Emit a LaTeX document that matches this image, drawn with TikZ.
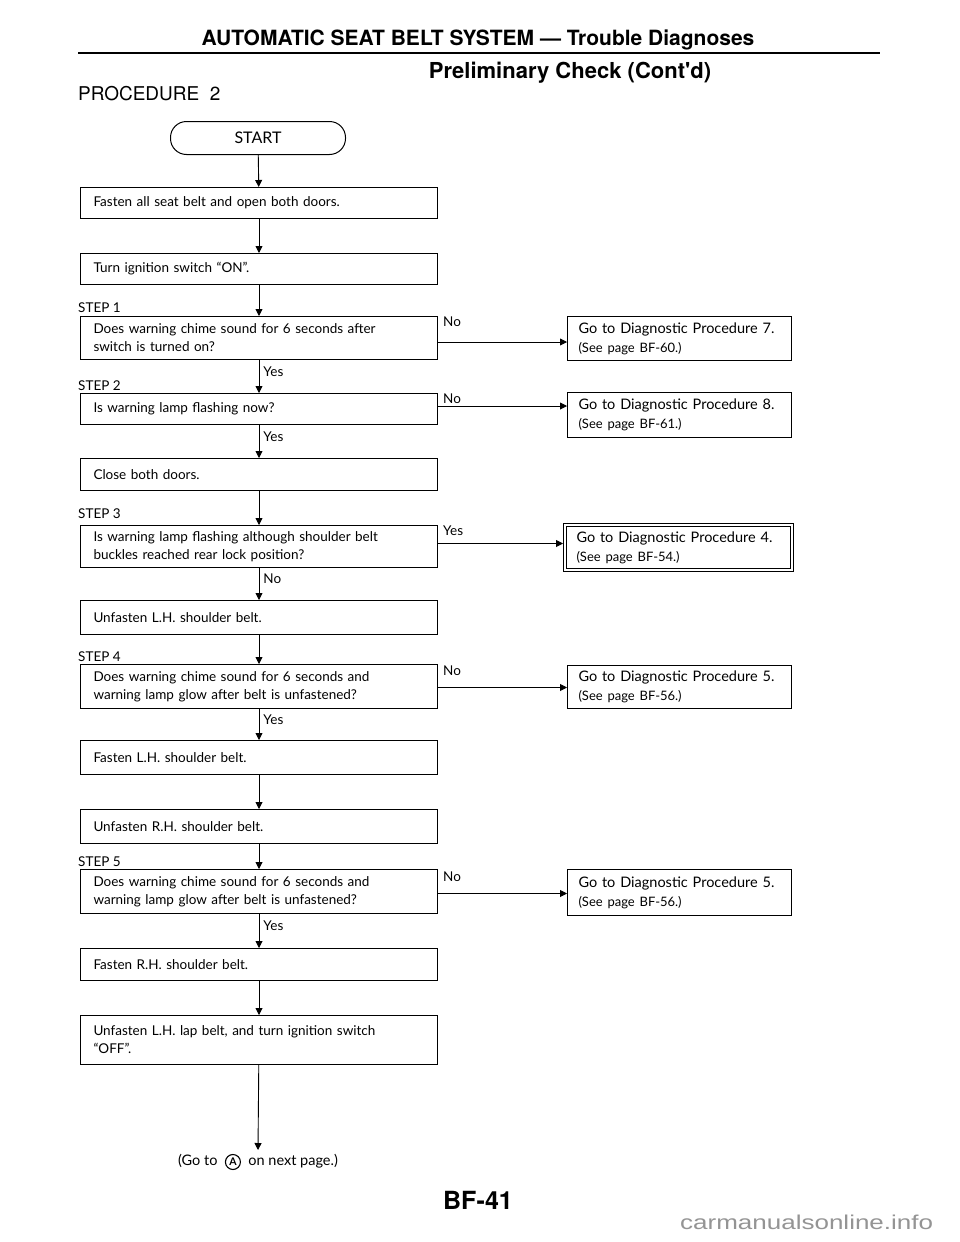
\documentclass[tikz,border=0pt]{standalone}
\usepackage{fontspec}
\usepackage{graphicx}
\setmainfont{Lato}
\newfontfamily\heros{TeX Gyre Heros}
\newfontfamily\wmfont{Liberation Sans}
\usetikzlibrary{arrows.meta}
\begin{document}
\begin{tikzpicture}[x=1pt,y=-1pt,
  every node/.style={inner sep=0pt},
  flowbox/.style={draw,line width=1pt,anchor=north west,minimum width=357pt,
    text width=331pt,inner xsep=13pt,align=left,font=\fontsize{13.5}{18}\selectfont},
  gobox/.style={draw,line width=1pt,anchor=north west,minimum width=224pt,
    text width=202pt,inner xsep=11pt,align=left,font=\fontsize{14.5}{19}\selectfont},
  startbox/.style={draw,line width=1pt,rounded corners=16pt,minimum width=175pt,minimum height=33pt,
    font=\fontsize{16}{18}\selectfont},
  steplbl/.style={anchor=south west,font=\fontsize{13.5}{16}\selectfont},
  anslbl/.style={anchor=west,font=\fontsize{13.5}{16}\selectfont},
  flow/.style={line width=0.9pt,-{Triangle[length=7pt,width=7pt]}}
]
\useasboundingbox (0,0) rectangle (960,1242);
\fill[white] (0,0) rectangle (960,1242);

% header
\node (hdr) at (478,40) {\heros\bfseries\fontsize{21}{24}\selectfont AUTOMATIC SEAT BELT SYSTEM — Trouble Diagnoses};
\coordinate (rl) at (78,53);
\coordinate (rr) at (880,53);
\draw[line width=2.5pt] (rl) -- (rr);
\node (prelim) at (570,73) {\heros\bfseries\fontsize{22}{24}\selectfont Preliminary Check (Cont'd)};
\node[anchor=west] (proc) at (78,94) {\heros\fontsize{19}{21}\selectfont PROCEDURE\ \ 2};

% start
\node[startbox] (start) at (258,138) {START};

\node[flowbox,minimum height=31pt] (b1) at (80,187) {Fasten all seat belt and open both doors.};
\node[flowbox,minimum height=31pt] (b2) at (80,253) {Turn ignition switch ``ON''.};

\node[steplbl] (s1) at (78,313) {STEP 1};
\node[flowbox,minimum height=43pt] (d1) at (80,316) {Does warning chime sound for 6 seconds after\\switch is turned on?};
\node[gobox,minimum height=44pt] (r1) at (567,316) {Go to Diagnostic Procedure 7.\\{\fontsize{13}{17}\selectfont(See page BF-60.)}};

\node[steplbl] (s2) at (78,391) {STEP 2};
\node[flowbox,minimum height=31pt] (d2) at (80,393) {Is warning lamp flashing now?};
\node[gobox,minimum height=45pt] (r2) at (567,392) {Go to Diagnostic Procedure 8.\\{\fontsize{13}{17}\selectfont(See page BF-61.)}};

\node[flowbox,minimum height=32pt] (b3) at (80,458) {Close both doors.};

\node[steplbl] (s3) at (78,519) {STEP 3};
\node[flowbox,minimum height=42pt] (d3) at (80,525) {Is warning lamp flashing although shoulder belt\\buckles reached rear lock position?};
\node[gobox,minimum width=230pt,text width=204pt,inner xsep=13pt,minimum height=48pt] (r3) at (563,523) {Go to Diagnostic Procedure 4.\\{\fontsize{13}{17}\selectfont(See page BF-54.)}};
\draw[line width=0.8pt] ([xshift=3.5pt,yshift=-3.5pt]r3.north west) rectangle ([xshift=-3.5pt,yshift=3.5pt]r3.south east);

\node[flowbox,minimum height=34pt] (b4) at (80,600) {Unfasten L.H. shoulder belt.};

\node[steplbl] (s4) at (78,662) {STEP 4};
\node[flowbox,minimum height=44pt] (d4) at (80,664) {Does warning chime sound for 6 seconds and\\warning lamp glow after belt is unfastened?};
\node[gobox,minimum height=43pt] (r4) at (567,665) {Go to Diagnostic Procedure 5.\\{\fontsize{13}{17}\selectfont(See page BF-56.)}};

\node[flowbox,minimum height=34pt] (b5) at (80,740) {Fasten L.H. shoulder belt.};
\node[flowbox,minimum height=34pt] (b6) at (80,809) {Unfasten R.H. shoulder belt.};

\node[steplbl] (s5) at (78,867) {STEP 5};
\node[flowbox,minimum height=44pt] (d5) at (80,869) {Does warning chime sound for 6 seconds and\\warning lamp glow after belt is unfastened?};
\node[gobox,minimum height=46pt] (r5) at (567,869) {Go to Diagnostic Procedure 5.\\{\fontsize{13}{17}\selectfont(See page BF-56.)}};

\node[flowbox,minimum height=32pt] (b7) at (80,948) {Fasten R.H. shoulder belt.};
\node[flowbox,minimum height=49pt] (b8) at (80,1015) {Unfasten L.H. lap belt, and turn ignition switch\\``OFF''.};

\node (goto) at (258,1162) {\fontsize{14.5}{16}\selectfont(Go to\ \ \tikz[baseline=(ca.base),y=1pt]\node[circle,draw,line width=1.1pt,minimum size=15pt,inner sep=0pt,font=\bfseries\fontsize{10.5}{10}\selectfont] (ca) {A};\ \ on next page.)};
\coordinate (gotop) at (258,1150);

\node (page) at (478,1200) {\heros\bfseries\fontsize{25}{27}\selectfont BF-41};
\node[anchor=west,text=black!42] (wm) at (680,1222) {\scalebox{1.3}[1]{\wmfont\fontsize{20}{22}\selectfont carmanualsonline.info}};

% vertical flow
\draw[flow] (start) -- (b1);
\draw[flow] (b1) -- (b2);
\draw[flow] (b2) -- (d1);
\draw[flow] (d1) -- node[anslbl,pos=0.35,xshift=4pt]{Yes} (d2);
\draw[flow] (d2) -- node[anslbl,pos=0.35,xshift=4pt]{Yes} (b3);
\draw[flow] (b3) -- (d3);
\draw[flow] (d3) -- node[anslbl,pos=0.35,xshift=4pt]{No} (b4);
\draw[flow] (b4) -- (d4);
\draw[flow] (d4) -- node[anslbl,pos=0.35,xshift=4pt]{Yes} (b5);
\draw[flow] (b5) -- (b6);
\draw[flow] (b6) -- (d5);
\draw[flow] (d5) -- node[anslbl,pos=0.35,xshift=4pt]{Yes} (b7);
\draw[flow] (b7) -- (b8);
\draw[flow] (b8) -- (gotop);

% side branches
\draw[flow] ([yshift=-4pt]d1.east) -- ([yshift=-4pt]d1.east -| r1.west);
\node[anslbl] (n1) at (443,322) {No};
\draw[flow] ([yshift=3pt]d2.east) -- ([yshift=3pt]d2.east -| r2.west);
\node[anslbl] (n2) at (443,399) {No};
\draw[flow] ([yshift=3pt]d3.east) -- ([yshift=3pt]d3.east -| r3.west);
\node[anslbl] (n3) at (443,531) {Yes};
\draw[flow] ([yshift=-1pt]d4.east) -- ([yshift=-1pt]d4.east -| r4.west);
\node[anslbl] (n4) at (443,671) {No};
\draw[flow] ([yshift=-2pt]d5.east) -- ([yshift=-2pt]d5.east -| r5.west);
\node[anslbl] (n5) at (443,877) {No};
\end{tikzpicture}
\end{document}
